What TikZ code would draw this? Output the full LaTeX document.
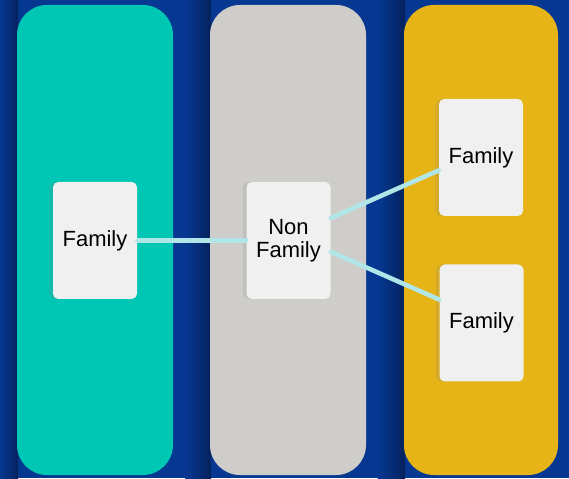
\documentclass[tikz,border=0pt]{standalone}
\usepackage{fontspec}
\setmainfont{Liberation Sans}
\usepackage{tikz}
\usetikzlibrary{shadows}
\definecolor{bgblue}{RGB}{6,56,146}
\definecolor{bgdark}{RGB}{5,34,92}
\definecolor{laneteal}{RGB}{0,198,180}
\definecolor{lanegray}{RGB}{207,205,202}
\definecolor{laneyellow}{RGB}{230,180,22}
\definecolor{cardwhite}{RGB}{240,240,240}
\definecolor{linkcyan}{RGB}{176,230,232}

\begin{document}
\begin{tikzpicture}[
  card/.style={fill=cardwhite, rounded corners=3pt, minimum width=1.68cm,
    minimum height=2.34cm, align=center, inner sep=2pt,
    font=\fontsize{12.5}{13}\selectfont,
    drop shadow={shadow xshift=-2pt, shadow yshift=0pt, opacity=0.18}},
  link/.style={linkcyan, line width=2.6pt, line cap=round}]
\fill[bgblue] (0,0) rectangle (11.38,9.56);
% shadows left of the lanes
\shade[left color=bgblue, right color=bgdark] (0,0) rectangle (0.36,9.56);
\shade[left color=bgblue, right color=bgdark] (3.7,0) rectangle (4.22,9.56);
\shade[left color=bgblue, right color=bgdark] (7.55,0) rectangle (8.1,9.56);
% lanes
\fill[laneteal, rounded corners=0.6cm] (0.34,0.06) rectangle (3.46,9.46);
\fill[lanegray, rounded corners=0.6cm] (4.2,0.06) rectangle (7.32,9.46);
\fill[laneyellow, rounded corners=0.6cm] (8.08,0.06) rectangle (11.16,9.46);
% cards
\node[card] (famL) at (1.9,4.75) {\raisebox{-2pt}{Family}};
\node[card] (nonfam) at (5.77,4.75) {\raisebox{-2pt}{Non}\\\raisebox{-2pt}{Family}};
\node[card] (famA) at (9.62,6.41) {\raisebox{-2pt}{Family}};
\node[card] (famB) at (9.63,3.1) {\raisebox{-2pt}{Family}};
% links
\draw[link] (famL.east) -- (nonfam.west);
\draw[link] (nonfam.28) -- (famA.197);
\draw[link] (nonfam.345) -- (famB.151);
\end{tikzpicture}
\end{document}
